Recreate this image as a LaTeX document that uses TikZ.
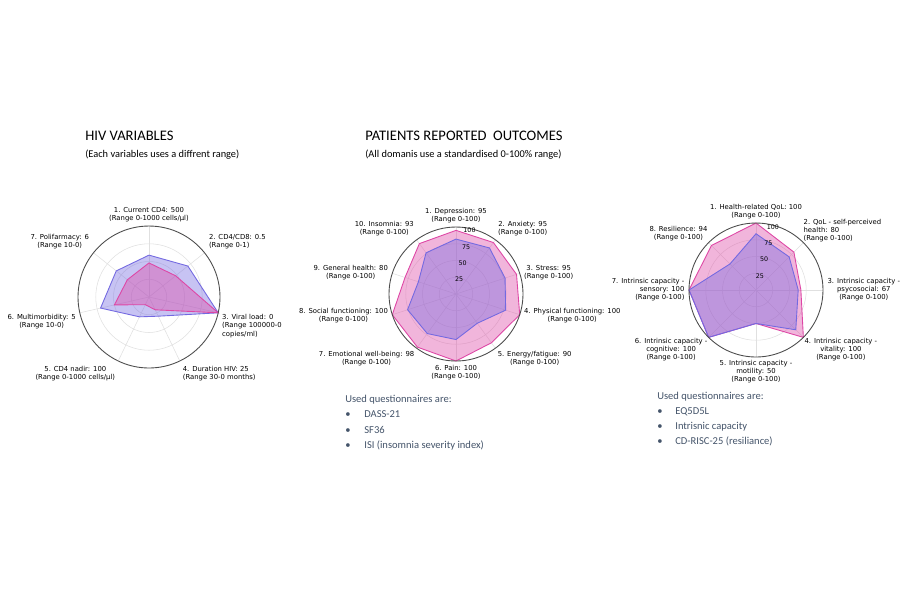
\documentclass[tikz,border=0pt]{standalone}
\usepackage{fontspec}
\setmainfont{Carlito}
\newfontfamily\plotfont{DejaVu Sans}
\usetikzlibrary{positioning}
\definecolor{pblue}{RGB}{115,105,225}
\definecolor{pmag}{RGB}{222,70,165}
\definecolor{listcol}{RGB}{68,84,106}
\tikzset{
  ring/.style={draw=black!12, line width=0.3pt},
  spoke/.style={draw=black!12, line width=0.3pt},
  rim/.style={draw=black!70, line width=0.5pt},
  bluearea/.style={fill=pblue, fill opacity=0.4, draw=pblue, line width=0.5pt},
  magarea/.style={fill=pmag, fill opacity=0.4, draw=pmag, line width=0.5pt},
  axlabel/.style={font=\plotfont\fontsize{3.9}{4.6}\selectfont, inner sep=0.5pt},
  ticklabel/.style={font=\plotfont\fontsize{3.6}{4}\selectfont, inner sep=0pt},
  heading/.style={font=\fontsize{8.3}{10}\selectfont, anchor=base west, inner sep=0pt},
  subheading/.style={font=\fontsize{5.9}{7}\selectfont, anchor=base west, inner sep=0pt},
  listitem/.style={font=\fontsize{6}{7}\selectfont, text=listcol, anchor=base west, inner sep=0pt}
}
\begin{document}
\begin{tikzpicture}[x=0.02cm, y=-0.02cm]
  \useasboundingbox[fill=white] (0,0) rectangle (900,600);

  % Headings
  \node (hivtitle) [heading] at (85,140) {HIV VARIABLES};
  \node (hivsub) [subheading] at (85,157) {(Each variables uses a diffrent range)};
  \node (protitle) [heading] at (365,140) {PATIENTS REPORTED\ \ OUTCOMES};
  \node (prosub) [subheading] at (365,157) {(All domanis use a standardised 0-100\% range)};

  % HIV radar
  \begin{scope}[shift={(149,297)}, x=1.42cm, y=1.42cm]
    \foreach \r in {0.25,0.5,0.75} \draw[ring] (0,0) circle (\r);
    \foreach \a in {90,38.57,-12.86,-64.29,-115.71,-167.14,141.43} \draw[spoke] (0,0) -- (\a:1);
    \fill[bluearea] (90:0.59) -- (38.57:0.70) -- (-12.86:1) -- (-64.29:0.30) -- (-115.71:0.31) -- (-167.14:0.70) -- (141.43:0.59) -- cycle;
    \fill[magarea] (90:0.48) -- (38.57:0.48) -- (-12.86:1) -- (-64.29:0.20) -- (-115.71:0.12) -- (-167.14:0.50) -- (141.43:0.39) -- cycle;
    \draw[rim] (0,0) circle (1);
    \node (h1) [axlabel, anchor=south, align=center] at (90:1.04) {1. Current CD4: 500\\(Range 0-1000 cells/µl)};
    \node (h2) [axlabel, anchor=south west, align=left] at (38.57:1.06) {2. CD4/CD8: 0.5\\(Range 0-1)};
    \node (h3) [axlabel, anchor=north west, align=left] at (-12.86:1.04) {3. Viral load: 0\\(Range 100000-0\\copies/ml)};
    \node (h4) [axlabel, anchor=north west, align=left] at (-64.29:1.06) {4. Duration HIV: 25\\(Range 30-0 months)};
    \node (h5) [axlabel, anchor=north east, align=center] at (-115.71:1.06) {5. CD4 nadir: 100\\(Range 0-1000 cells/µl)};
    \node (h6) [axlabel, anchor=north east, align=center] at (-167.14:1.04) {6. Multimorbidity: 5\\(Range 10-0)};
    \node (h7) [axlabel, anchor=south east, align=center] at (141.43:1.06) {7. Polifarmacy: 6\\(Range 10-0)};
  \end{scope}

  % PRO radar
  \begin{scope}[shift={(456,294)}, x=1.34cm, y=1.34cm]
    \foreach \r in {0.25,0.5,0.75} \draw[ring] (0,0) circle (\r);
    \foreach \a in {90,54,...,-234} \draw[spoke] (0,0) -- (\a:1);
    \fill[magarea] (90:0.95) -- (54:0.95) -- (18:0.95) -- (-18:1) -- (-54:0.90) -- (-90:1) -- (-126:0.98) -- (-162:1) -- (162:0.80) -- (126:0.93) -- cycle;
    \fill[bluearea] (90:0.82) -- (54:0.85) -- (18:0.77) -- (-18:0.78) -- (-54:0.54) -- (-90:0.68) -- (-126:0.73) -- (-162:0.76) -- (162:0.59) -- (126:0.76) -- cycle;
    \draw[rim] (0,0) circle (1);
    \foreach \r in {25,50,75,100} \node[ticklabel] at (78:{\r/100-0.03}) {\r};
    \node (p1) [axlabel, anchor=south, align=center] at (90:1.04) {1. Depression: 95\\(Range 0-100)};
    \node (p2) [axlabel, anchor=south west, align=center] at (54:1.04) {2. Anxiety: 95\\(Range 0-100)};
    \node (p3) [axlabel, anchor=west, align=center] at (18:1.05) {3. Stress: 95\\(Range 0-100)};
    \node (p4) [axlabel, anchor=west, align=center] at (-18:1.05) {4. Physical functioning: 100\\(Range 0-100)};
    \node (p5) [axlabel, anchor=north west, align=center] at (-54:1.03) {5. Energy/fatigue: 90\\(Range 0-100)};
    \node (p6) [axlabel, anchor=north, align=center] at (-90:1.04) {6. Pain: 100\\(Range 0-100)};
    \node (p7) [axlabel, anchor=north east, align=center] at (-126:1.03) {7. Emotional well-being: 98\\(Range 0-100)};
    \node (p8) [axlabel, anchor=east, align=center] at (-162:1.05) {8. Social functioning: 100\\(Range 0-100)};
    \node (p9) [axlabel, anchor=east, align=center] at (162:1.05) {9. General health: 80\\(Range 0-100)};
    \node (p10) [axlabel, anchor=south east, align=center] at (126:1.04) {10. Insomnia: 93\\(Range 0-100)};
  \end{scope}

  % QoL radar
  \begin{scope}[shift={(756,290)}, x=1.34cm, y=1.34cm]
    \foreach \r in {0.25,0.5,0.75} \draw[ring] (0,0) circle (\r);
    \foreach \a in {90,45,...,-225} \draw[spoke] (0,0) -- (\a:1);
    \fill[magarea] (90:1) -- (45:0.80) -- (0:0.67) -- (-45:1) -- (-90:0.50) -- (-135:1) -- (180:1) -- (135:0.94) -- cycle;
    \fill[bluearea] (90:0.84) -- (45:0.70) -- (0:0.63) -- (-45:0.84) -- (-90:0.50) -- (-135:1) -- (180:1) -- (135:0.55) -- cycle;
    \draw[rim] (0,0) circle (1);
    \foreach \r in {25,50,75,100} \node[ticklabel] at (75:{\r/100-0.03}) {\r};
    \node (q1) [axlabel, anchor=south, align=center] at (90:1.04) {1. Health-related QoL: 100\\(Range 0-100)};
    \node (q2) [axlabel, anchor=south west, align=left] at (45:0.98) {2. QoL - self-perceived\\health: 80\\(Range 0-100)};
    \node (q3) [axlabel, anchor=west, align=center] at (0:1.05) {3. Intrinsic capacity -\\psycosocial: 67\\(Range 0-100)};
    \node (q4) [axlabel, anchor=north west, align=center] at (-45:1.0) {4. Intrinsic capacity -\\vitality: 100\\(Range 0-100)};
    \node (q5) [axlabel, anchor=north, align=center] at (-90:1.03) {5. Intrinsic capacity -\\motility: 50\\(Range 0-100)};
    \node (q6) [axlabel, anchor=north east, align=center] at (-135:1.0) {6. Intrinsic capacity -\\cognitive: 100\\(Range 0-100)};
    \node (q7) [axlabel, anchor=east, align=right] at (180:1.05) {7. Intrinsic capacity -\\sensory: 100\\(Range 0-100)};
    \node (q8) [axlabel, anchor=south east, align=center] at (135:1.0) {8. Resilience: 94\\(Range 0-100)};
  \end{scope}

  % Questionnaire lists
  \node (prolist) [listitem] at (345,402) {Used questionnaires are:};
  \foreach \t [count=\i] in {DASS-21, SF36, ISI (insomnia severity index)} {
    \node [listitem] at (345,{402+\i*15.5}) {•};
    \node [listitem] at (364,{402+\i*15.5}) {\t};
  }
  \node (qollist) [listitem] at (657,399) {Used questionnaires are:};
  \foreach \t [count=\i] in {EQ5D5L, Intrisnic capacity, CD-RISC-25 (resiliance)} {
    \node [listitem] at (657,{399+\i*15}) {•};
    \node [listitem] at (675,{399+\i*15}) {\t};
  }
\end{tikzpicture}
\end{document}
